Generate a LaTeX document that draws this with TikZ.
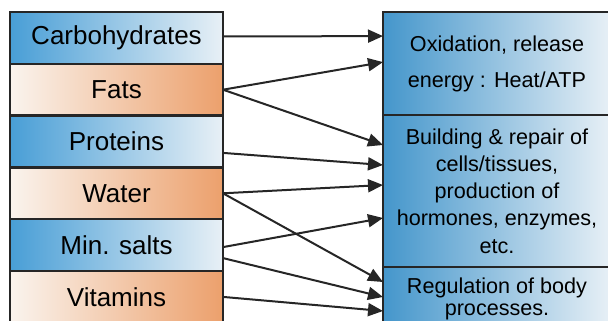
\documentclass[tikz,border=0pt]{standalone}
\usepackage{fontspec}
\setmainfont{Liberation Sans}
\usetikzlibrary{arrows.meta, positioning, calc}
\definecolor{nutblue}{RGB}{72,158,214}
\definecolor{nutorange}{RGB}{236,160,108}
\definecolor{paleblue}{RGB}{232,240,246}
\definecolor{paleorange}{RGB}{250,244,238}
\tikzset{
  nutbox/.style={
    rectangle,
    draw=black!85,
    line width=1.2pt,
    minimum width=106.5pt,
    minimum height=25.9pt,
    inner sep=0pt,
    outer sep=0pt,
    align=center,
    font=\fontsize{13}{15}\selectfont
  },
  nutblue/.style={nutbox, left color=nutblue, right color=paleblue},
  nutorange/.style={nutbox, left color=paleorange, right color=nutorange},
  rolebox/.style={
    rectangle,
    draw=black!85,
    line width=1.2pt,
    minimum width=114pt,
    inner sep=0pt,
    outer sep=0pt,
    align=center,
    left color=nutblue!95!black,
    right color=paleblue
  },
  linkarrow/.style={-{Triangle[length=7.5pt,width=6.5pt]}, line width=1pt, draw=black!85}
}

\begin{document}
\begin{tikzpicture}[x=0.5pt, y=-0.5pt, node distance=0pt]
  \useasboundingbox (0,0) rectangle (608,320);
  \clip (0,0) rectangle (608,320);

  % food groups
  \node[nutblue, anchor=north west] (carbo) at (10,12) {Carbohydrates};
  \node[nutorange, below=of carbo] (fats) {Fats};
  \node[nutblue, below=of fats] (prot) {Proteins};
  \node[nutorange, below=of prot] (water) {Water};
  \node[nutblue, below=of water] (salts) {Min. salts};
  \node[nutorange, below=of salts] (vitam) {Vitamins};

  % roles
  \node[rolebox, anchor=north west, minimum height=51.5pt,
        font=\fontsize{10.8}{18}\selectfont] (energy) at (383,12)
        {Oxidation, release\\energy : Heat/ATP};
  \node[rolebox, below=of energy, minimum height=76pt,
        font=\fontsize{10.8}{13.6}\selectfont] (build)
        {Building \& repair of\\cells/tissues,\\production of\\hormones, enzymes,\\etc.};
  \node[rolebox, below=of build, minimum height=32pt,
        font=\fontsize{10.8}{10.8}\selectfont] (regul)
        {Regulation of body\\processes.};

  \draw[linkarrow] ([yshift=0.7pt]carbo.east) -- ([yshift=13.7pt]energy.west);
  \draw[linkarrow] (fats.east) -- ([yshift=0.7pt]energy.west);
  \draw[linkarrow] (fats.east) -- ([yshift=23pt]build.west);
  \draw[linkarrow] ([yshift=-5.7pt]prot.east) -- ([yshift=13pt]build.west);
  \draw[linkarrow] (water.east) -- ([yshift=3pt]build.west);
  \draw[linkarrow] (water.east) -- ([yshift=8.5pt]regul.west);
  \draw[linkarrow] ([yshift=-1pt]salts.east) -- ([yshift=-13.5pt]build.west);
  \draw[linkarrow] ([yshift=-6.5pt]salts.east) -- ([yshift=1pt]regul.west);
  \draw[linkarrow] (vitam.east) -- ([yshift=-6pt]regul.west);
\end{tikzpicture}
\end{document}
